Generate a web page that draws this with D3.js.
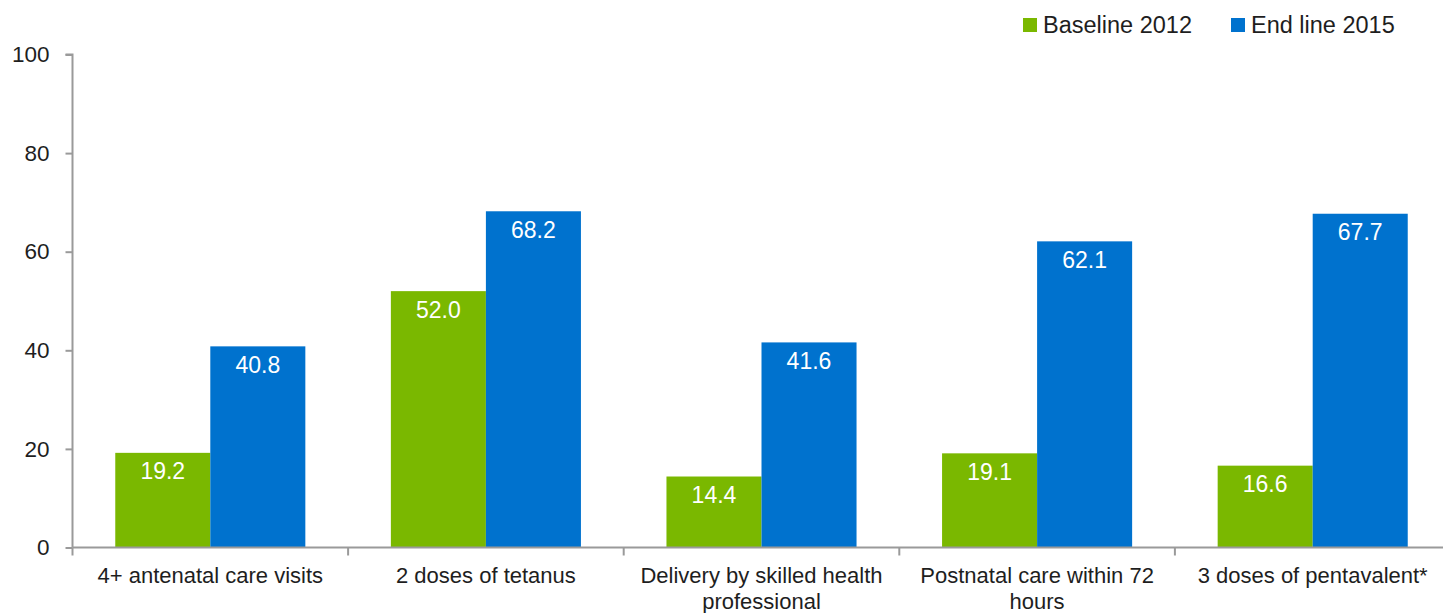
<!DOCTYPE html>
<html>
<head>
<meta charset="utf-8">
<script src="https://cdn.jsdelivr.net/npm/d3@7"></script>
<style>
  html, body { margin: 0; padding: 0; background: #fff; }
  svg { display: block; font-family: "Liberation Sans", Arial, sans-serif; }
</style>
</head>
<body>
<svg id="chart" width="1443" height="613"></svg>
<script>
// Maternal and child health indicators, baseline vs end line (%)
const categories = [
  "4+ antenatal care visits",
  "2 doses of tetanus",
  "Delivery by skilled health professional",
  "Postnatal care within 72 hours",
  "3 doses of pentavalent*"
];
const seriesNames = ["Baseline 2012", "End line 2015"];
const baseline2012 = [19.2, 52.0, 14.4, 19.1, 16.6];
const endline2015 = [40.8, 68.2, 41.6, 62.1, 67.7];
const yTicks = [0, 20, 40, 60, 80, 100];
const colors = ["#7ab800", "#0072ce"];

const FONT = "'Liberation Sans', Arial, sans-serif";
const TEXT = "#1e1e1e";
const AXIS = "#9a9a9a";

const svg = d3.select("#chart");
const plotLeft = 72.5, plotRight = 1450.5, plotTop = 54.5, plotBottom = 547.5;

const x0 = d3.scaleBand().domain(categories).range([plotLeft, plotRight]).paddingInner(0).paddingOuter(0);
const x1 = d3.scaleBand().domain(seriesNames).range([0, x0.bandwidth()]).paddingOuter(0.45).paddingInner(0);
const y = d3.scaleLinear().domain([0, 100]).range([plotBottom, plotTop]);
const color = d3.scaleOrdinal().domain(seriesNames).range(colors);

const rows = categories.map((c, i) => ({
  category: c,
  values: [
    { series: seriesNames[0], value: baseline2012[i] },
    { series: seriesNames[1], value: endline2015[i] }
  ]
}));

// Bars
const groups = svg.append("g").selectAll("g")
  .data(rows).join("g")
  .attr("transform", d => `translate(${x0(d.category)},0)`);

groups.selectAll("rect")
  .data(d => d.values).join("rect")
  .attr("x", d => x1(d.series))
  .attr("width", x1.bandwidth())
  .attr("y", d => y(d.value))
  .attr("height", d => y(0) - y(d.value))
  .attr("fill", d => color(d.series));

// Value labels inside bar tops
groups.selectAll("text.val")
  .data(d => d.values).join("text")
  .attr("class", "val")
  .attr("x", d => x1(d.series) + x1.bandwidth() / 2)
  .attr("y", d => y(d.value) + 26.5)
  .attr("text-anchor", "middle")
  .attr("fill", "#fff")
  .style("font-size", "23px")
  .text(d => d.value.toFixed(1));

// Y axis
const yAxis = svg.append("g")
  .attr("transform", `translate(${plotLeft},0)`)
  .call(d3.axisLeft(y).tickValues(yTicks).tickSize(7).tickPadding(16).tickFormat(d3.format("d")));
yAxis.select(".domain").attr("stroke", AXIS).attr("stroke-width", 2).attr("d", `M-7,${plotTop}H0V${plotBottom}`);
yAxis.selectAll(".tick line").attr("stroke", AXIS).attr("stroke-width", 2);
yAxis.selectAll(".tick text").attr("fill", TEXT).style("font-size", "22.5px").style("font-family", FONT);

// X axis with boundary ticks between categories
const xAxisG = svg.append("g").attr("transform", `translate(0,${plotBottom})`);
xAxisG.append("line")
  .attr("x1", plotLeft).attr("x2", plotRight)
  .attr("stroke", AXIS).attr("stroke-width", 2);
xAxisG.selectAll("line.tick")
  .data(categories).join("line")
  .attr("class", "tick")
  .attr("x1", d => x0(d)).attr("x2", d => x0(d))
  .attr("y1", 0).attr("y2", 8)
  .attr("stroke", AXIS).attr("stroke-width", 2);

// Category labels, wrapped to the band width
function wrap(textSel, width) {
  textSel.each(function () {
    const text = d3.select(this);
    const words = text.text().split(/\s+/);
    const xPos = text.attr("x");
    text.text(null);
    let line = [];
    let tspan = text.append("tspan").attr("x", xPos).attr("dy", 0);
    words.forEach(w => {
      line.push(w);
      tspan.text(line.join(" "));
      if (tspan.node().getComputedTextLength() > width && line.length > 1) {
        line.pop();
        tspan.text(line.join(" "));
        line = [w];
        tspan = text.append("tspan").attr("x", xPos).attr("dy", "1.2em").text(w);
      }
    });
  });
}

xAxisG.selectAll("text.cat")
  .data(categories).join("text")
  .attr("class", "cat")
  .attr("x", d => x0(d) + x0.bandwidth() / 2)
  .attr("y", 35.5)
  .attr("text-anchor", "middle")
  .attr("fill", TEXT)
  .style("font-size", "22px")
  .text(d => d)
  .call(wrap, 262);

// Legend
const legendItems = [
  { name: seriesNames[0], x: 1023 },
  { name: seriesNames[1], x: 1231 }
];
const legend = svg.append("g").selectAll("g")
  .data(legendItems).join("g")
  .attr("transform", d => `translate(${d.x},18)`);
legend.append("rect")
  .attr("width", 14).attr("height", 14)
  .attr("fill", d => color(d.name));
legend.append("text")
  .attr("x", 20).attr("y", 14.7)
  .attr("fill", TEXT)
  .style("font-size", "23.5px")
  .text(d => d.name);
</script>
</body>
</html>
